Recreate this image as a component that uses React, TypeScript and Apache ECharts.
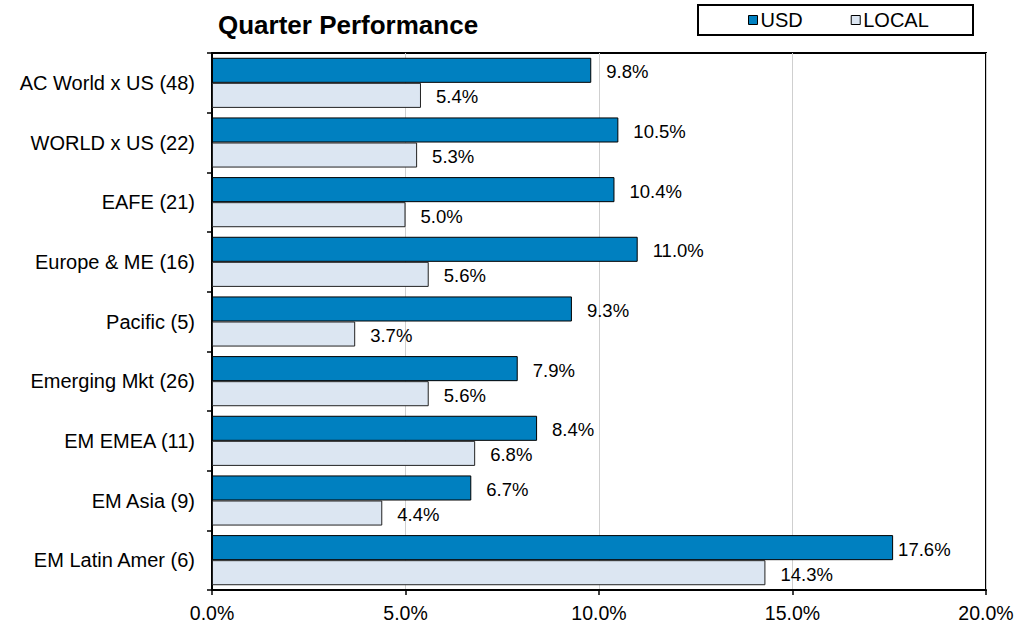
import React, { useEffect, useRef } from "react";
import * as echarts from "echarts";

const categories = [
  "AC World x US (48)",
  "WORLD x US (22)",
  "EAFE (21)",
  "Europe & ME (16)",
  "Pacific (5)",
  "Emerging Mkt (26)",
  "EM EMEA (11)",
  "EM Asia (9)",
  "EM Latin Amer (6)",
];
const usdValues = [9.8, 10.5, 10.4, 11.0, 9.3, 7.9, 8.4, 6.7, 17.6];
const localValues = [5.4, 5.3, 5.0, 5.6, 3.7, 5.6, 6.8, 4.4, 14.3];
const seriesNames = ["USD", "LOCAL"];
const xMin = 0;
const xMax = 20;
const xInterval = 5;

const FONT = "'Liberation Sans', Arial, sans-serif";
const USD_COLOR = "#0080C0";
const LOCAL_COLOR = "#DCE6F2";

const fmt = (v: number) => v.toFixed(1) + "%";

export default function App() {
  const ref = useRef<HTMLDivElement>(null);
  useEffect(() => {
    if (!ref.current) return;
    const chart = echarts.init(ref.current, null, { renderer: "svg" });
    const mkData = (vals: number[]) =>
      vals.map((v) => ({
        value: v,
        label: v > 16 ? { distance: 5 } : undefined,
      }));
    const labelCfg = {
      show: true,
      position: "right" as const,
      distance: 15,
      offset: [0, 1.5],
      formatter: (p: any) => fmt(p.value),
      color: "#000",
      fontSize: 18.5,
      fontFamily: FONT,
    };
    chart.setOption({
      animation: false,
      backgroundColor: "#fff",
      title: {
        text: "Quarter Performance",
        left: 218,
        top: 12,
        padding: 0,
        textStyle: {
          fontSize: 26,
          fontWeight: "bold",
          color: "#000",
          fontFamily: FONT,
        },
      },
      legend: {
        data: [
          { name: seriesNames[0], itemStyle: { color: USD_COLOR, borderColor: "#000", borderWidth: 1 } },
          { name: seriesNames[1], itemStyle: { color: LOCAL_COLOR, borderColor: "#000", borderWidth: 1 } },
        ],
        left: 748,
        top: 10,
        padding: 0,
        itemWidth: 9,
        itemHeight: 9,
        itemGap: 48,
        icon: "rect",
        textStyle: {
          fontSize: 20,
          color: "#000",
          fontFamily: FONT,
          padding: [0, 0, 0, -2],
        },
      },
      graphic: [
        {
          type: "rect",
          shape: { x: 698, y: 5, width: 275, height: 30 },
          style: { fill: "none", stroke: "#000", lineWidth: 2 },
          silent: true,
        },
      ],
      grid: {
        left: 212,
        right: 46,
        top: 53,
        bottom: 36,
        show: true,
        borderColor: "#000",
        borderWidth: 2,
        backgroundColor: "transparent",
      },
      xAxis: {
        type: "value",
        min: xMin,
        max: xMax,
        interval: xInterval,
        axisLine: { show: true, lineStyle: { color: "#000", width: 2 } },
        axisTick: { show: true, length: 5, lineStyle: { color: "#000", width: 1.5 } },
        splitLine: { show: true, lineStyle: { color: "#CFCFCF", width: 1 } },
        axisLabel: {
          formatter: (v: number) => fmt(v),
          fontSize: 19.5,
          color: "#000",
          fontFamily: FONT,
          margin: 13,
        },
      },
      yAxis: {
        type: "category",
        data: categories,
        inverse: true,
        axisLine: { show: true, lineStyle: { color: "#000", width: 2 } },
        axisTick: { show: true, length: 5, lineStyle: { color: "#000", width: 1.5 } },
        axisLabel: {
          fontSize: 20,
          color: "#000",
          fontFamily: FONT,
          margin: 17,
        },
      },
      series: [
        {
          name: seriesNames[0],
          type: "bar",
          data: mkData(usdValues),
          barGap: "0%",
          barCategoryGap: "16%",
          itemStyle: { color: USD_COLOR, borderColor: "#000", borderWidth: 1 },
          label: labelCfg,
        },
        {
          name: seriesNames[1],
          type: "bar",
          data: mkData(localValues),
          barGap: "0%",
          barCategoryGap: "16%",
          itemStyle: { color: LOCAL_COLOR, borderColor: "#222", borderWidth: 1 },
          label: labelCfg,
        },
      ],
    });
    return () => chart.dispose();
  }, []);
  return (
    <div
      ref={ref}
      style={{ position: "fixed", left: 0, top: 0, width: 1032, height: 626, background: "#fff" }}
    />
  );
}
